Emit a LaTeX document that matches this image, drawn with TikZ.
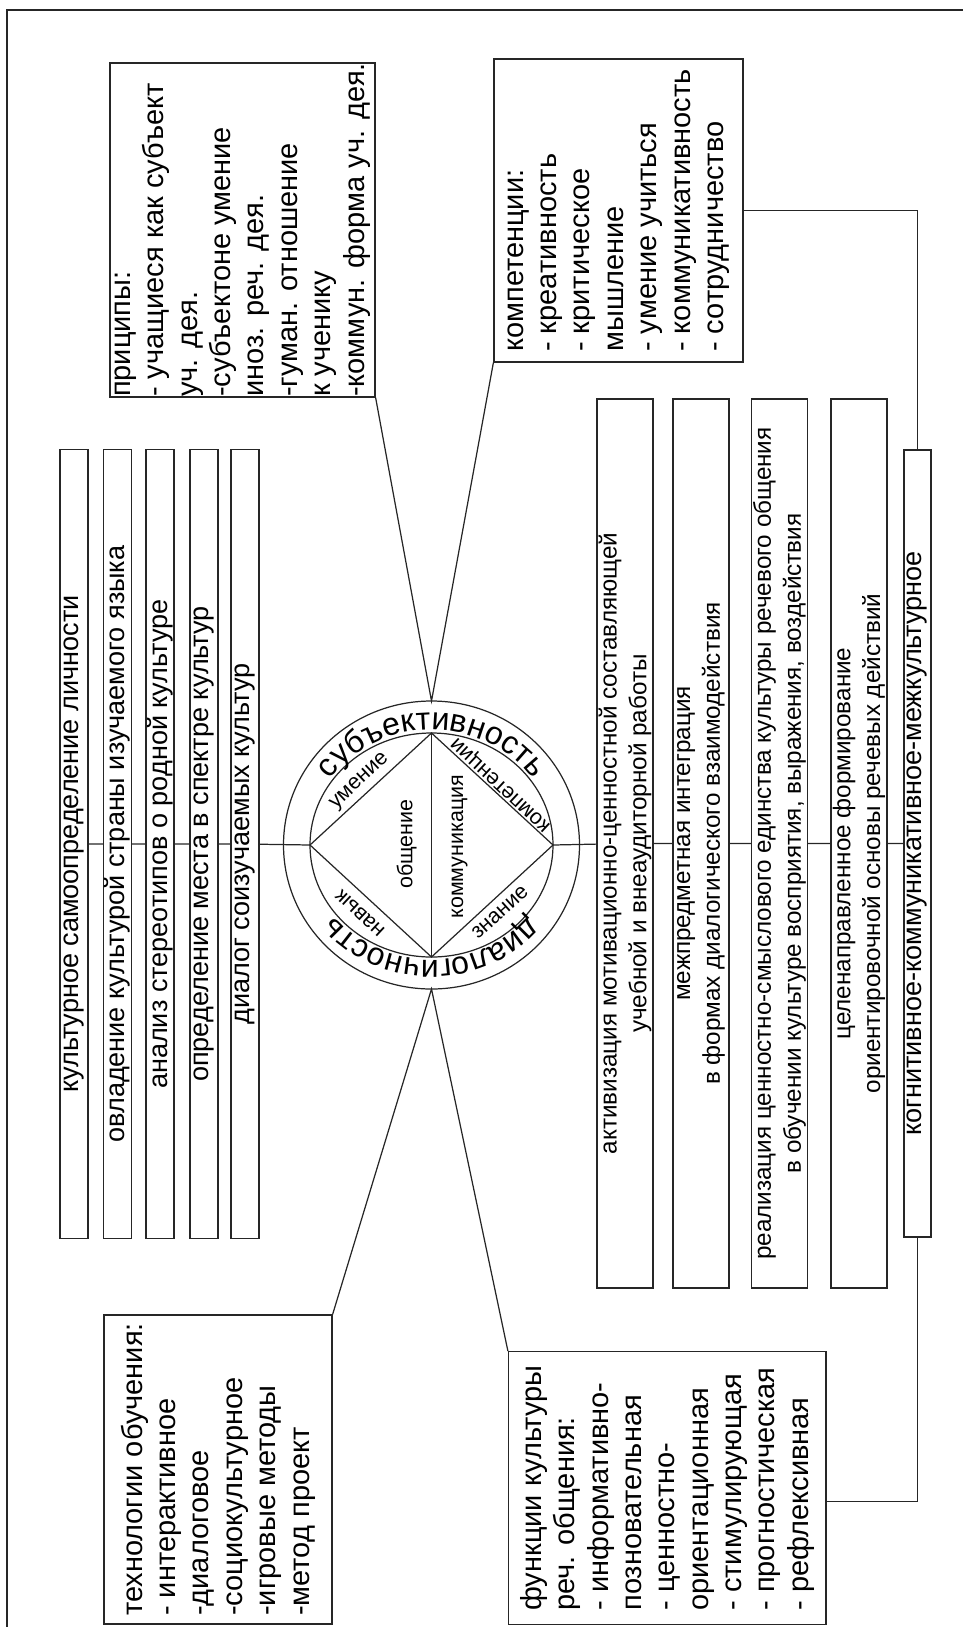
\documentclass[tikz,border=0pt]{standalone}
\usepackage{fontspec}
\setmainfont{Liberation Sans}
\usetikzlibrary{calc,decorations.text}
\newcommand\ringfont{\fontsize{18.2}{20}\selectfont}

\begin{document}
\begin{tikzpicture}[x=0.2mm, y=-0.2mm, line width=0.7pt,
  box/.style={draw=black!85, rotate=90, inner sep=0pt},
  longbox/.style={box, minimum width=157.8mm, minimum height=5.6mm, font=\fontsize{15.4}{18}\selectfont},
  twobox/.style={box, minimum width=177.8mm, minimum height=11.2mm, align=center, font=\fontsize{13.8}{17}\selectfont},
  listbox/.style={box, align=left, font=\fontsize{16.5}{19}\selectfont},
  tag/.style={inner sep=0pt, font=\fontsize{12.2}{14}\selectfont},
  wire/.style={draw=black!85}]
\useasboundingbox (0,0) rectangle (963,1627);
\clip (0,0) rectangle (963,1627);
\draw[black!85] (7,10) rectangle (990,1660);

\node[longbox] (self) at (74,844) {культурное самоопределение личности};
\node[longbox] (lang) at (117.5,844) {овладение культурой страны изучаемого языка};
\node[longbox] (stereo) at (160,844) {анализ стереотипов о родной культуре};
\node[longbox] (place) at (204,844) {определение места в спектре культур};
\node[longbox] (dial) at (245,844) {диалог соизучаемых культур};

\node[twobox] (motiv) at (625,843.5) {активизация мотивационно-ценностной составляющей\\учебной и внеаудиторной работы};
\node[twobox] (integr) at (701,843.5) {межпредметная интеграция\\в формах диалогического взаимодействия};
\node[twobox] (unity) at (779.5,843.5) {реализация ценностно-смыслового единства культуры речевого общения\\в обучении культуре восприятия, выражения, воздействия};
\node[twobox] (orient) at (859,843.5) {целенаправленное формирование\\ориентировочной основы речевых действий};
\node[longbox, minimum width=157.4mm, minimum height=5.4mm] (kog) at (917.5,843.5) {когнитивное-коммуникативное-межкультурное};

\node[listbox, minimum width=66.8mm, minimum height=53mm] (prin) at (242.5,230) {приц{\char"0438}пы:\\- учащиеся как субъект\\уч. дея.\\-субъектоне умение\\иноз. реч. дея.\\-гуман. отношение\\к ученику\\-коммун. форма уч. дея.};
\node[listbox, minimum width=60.6mm, minimum height=49.8mm] (comp) at (618.5,210.5) {компетенции:\\- креативность\\- критическое\\мышление\\- умение учиться\\- коммуникативность\\- сотрудничество};
\node[listbox, minimum width=61.8mm, minimum height=45.6mm] (tech) at (218,1469.5) {технологии обучения:\\- интерактивное\\-диалоговое\\-социокультурное\\-игровые методы\\-метод проект};
\node[listbox, minimum width=54.5mm, minimum height=63.5mm] (func) at (667.3,1488) {функции культуры\\реч. общения:\\- информативно-\\позновательная\\- ценностно-\\ориентационная\\- стимулирующая\\- прогностическая\\- рефлексивная};

\draw[wire] (431.5,845) ellipse [x radius=148, y radius=144];
\draw[wire] (431.5,845) ellipse [x radius=121.5, y radius=112];
\coordinate (dT) at (431.5,733);
\coordinate (dB) at (431.5,957);
\coordinate (dL) at (310,845);
\coordinate (dR) at (553,845);
\coordinate (ctop) at (431.5,701);
\coordinate (cbot) at (431.5,989);
\draw[wire] (dL) -- (dT) -- (dR) -- (dB) -- cycle;
\draw[wire] (dT) -- (dB);

\node[tag, rotate=90] (obsh) at (406.7,844) {общение};
\node[tag, rotate=90] (komm) at (459.5,846.7) {коммуникация};
\node[tag, rotate=43] (umen) at (360,781.7) {умение};
\node[tag, rotate=137] (komp) at (501.7,784.2) {компетенции};
\node[tag, rotate=137] (navyk) at (360,913.3) {навык};
\node[tag, rotate=42] (znan) at (500,912.3) {знание};

\begin{scope}[shift={(431.5,845)}, y=0.2mm]
\path[decorate, decoration={text along path, text align=center, text={|\ringfont|субъективность}}] (180:124 and 115) arc[start angle=180, end angle=0, x radius=124, y radius=115];
\path[decorate, decoration={text along path, text align=center, text={|\ringfont|диалогичность}}] (0:124 and 115) arc[start angle=0, end angle=-180, x radius=124, y radius=115];
\end{scope}

\draw[wire] (prin.south west) -- (ctop) -- (comp.north west);
\draw[wire] (tech.south east) -- (cbot) -- (func.north east);
\draw[wire] (self) -- (lang) -- (stereo) -- (place) -- (dial) -- (dL);
\draw[wire] (dR) -- (motiv) -- (integr) -- (unity) -- (orient) -- (kog);
\draw[wire] (comp.south) -| (kog.east);
\draw[wire] ($(func.south east)!0.55!(func.south west)$) -| (kog.west);
\end{tikzpicture}
\end{document}
